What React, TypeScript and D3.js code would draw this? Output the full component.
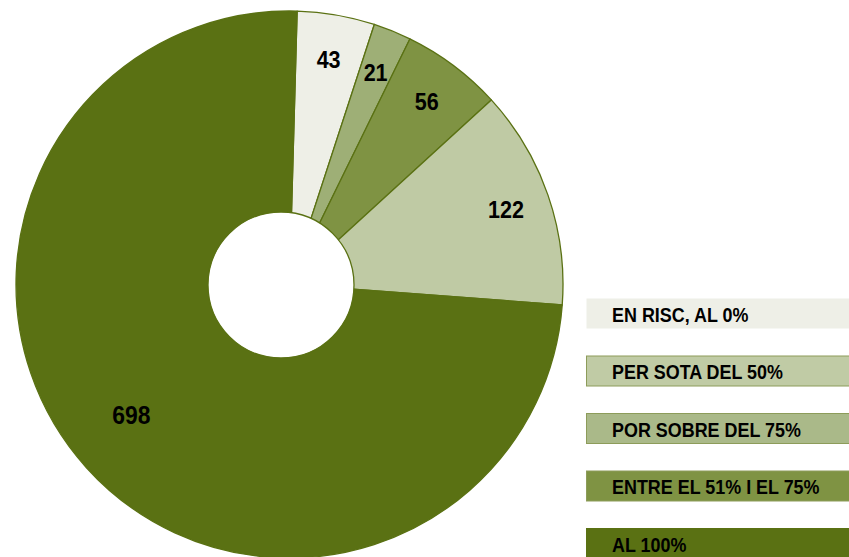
import React from "react";
import * as d3 from "d3";

const categories = ["EN RISC, AL 0%", "POR SOBRE DEL 75%", "ENTRE EL 51% I EL 75%", "PER SOTA DEL 50%", "AL 100%"];
const values = [43, 21, 56, 122, 698];
const sliceColors = ["#eeefe7", "#9eaf76", "#7f9343", "#bfcaa4", "#5a7113"];

const legendLabels = ["EN RISC, AL 0%", "PER SOTA DEL 50%", "POR SOBRE DEL 75%", "ENTRE EL 51% I EL 75%", "AL 100%"];
const legendColors = ["#eeefe7", "#c0cba5", "#aab989", "#7f9343", "#5a7113"];

const W = 849;
const H = 557;
const STROKE = "#5a7113";

export default function App() {
  const cx = 289.5;
  const cy = 284.5;
  const r = 273.5;
  const rot = (1.6 * Math.PI) / 180;

  const pie = d3
    .pie<number>()
    .sort(null)
    .startAngle(rot)
    .endAngle(rot + 2 * Math.PI);
  const arcs = pie(values);
  const arc = d3.arc<d3.PieArcDatum<number>>().innerRadius(0).outerRadius(r);

  const legendY = d3.scalePoint<string>().domain(legendLabels).range([298, 528]);

  const font = "'Liberation Sans', Arial, Helvetica, sans-serif";
  const sx = 0.88;

  return (
    <svg
      width={W}
      height={H}
      style={{ position: "fixed", left: 0, top: 0, display: "block" }}
    >
      <rect x={0} y={0} width={W} height={H} fill="#ffffff" />
      <g transform={`translate(${cx},${cy})`}>
        {arcs.map((a, i) => (
          <path
            key={categories[i]}
            d={arc(a) || ""}
            fill={sliceColors[i]}
            stroke={STROKE}
            strokeWidth={1.3}
            strokeLinejoin="round"
          />
        ))}
      </g>
      <circle cx={281} cy={285} r={73} fill="#ffffff" stroke={STROKE} strokeWidth={1.3} />
      <g transform={`translate(${cx},${cy})`}>
        {arcs.map((a, i) => {
          const mid = (a.startAngle + a.endAngle) / 2;
          const big = a.endAngle - a.startAngle > Math.PI;
          const la = big ? mid + 0.045 : mid;
          const lr = big ? 205 : 229;
          const x = lr * Math.sin(la);
          const y = -lr * Math.cos(la);
          return (
            <text
              key={"l" + i}
              transform={`translate(${x},${y}) scale(${sx},1)`}
              dy="0.36em"
              textAnchor="middle"
              fontFamily={font}
              fontWeight="bold"
              fontSize={big ? 26 : 24.5}
              fill="#000000"
            >
              {values[i]}
            </text>
          );
        })}
      </g>
      <g>
        {legendLabels.map((lab, i) => {
          const y = legendY(lab) as number;
          return (
            <g key={lab}>
              <rect
                x={586.5}
                y={y + 0.5}
                width={280}
                height={30}
                fill={legendColors[i]}
                stroke={i === 0 ? "none" : i === 4 ? legendColors[i] : "#8d9c5a"}
                strokeWidth={1}
              />
              <text
                transform={`translate(612,${y + 23.7}) scale(0.92,1)`}
                fontFamily={font}
                fontWeight="bold"
                fontSize={19.5}
                fill="#000000"
              >
                {lab}
              </text>
            </g>
          );
        })}
      </g>
    </svg>
  );
}
